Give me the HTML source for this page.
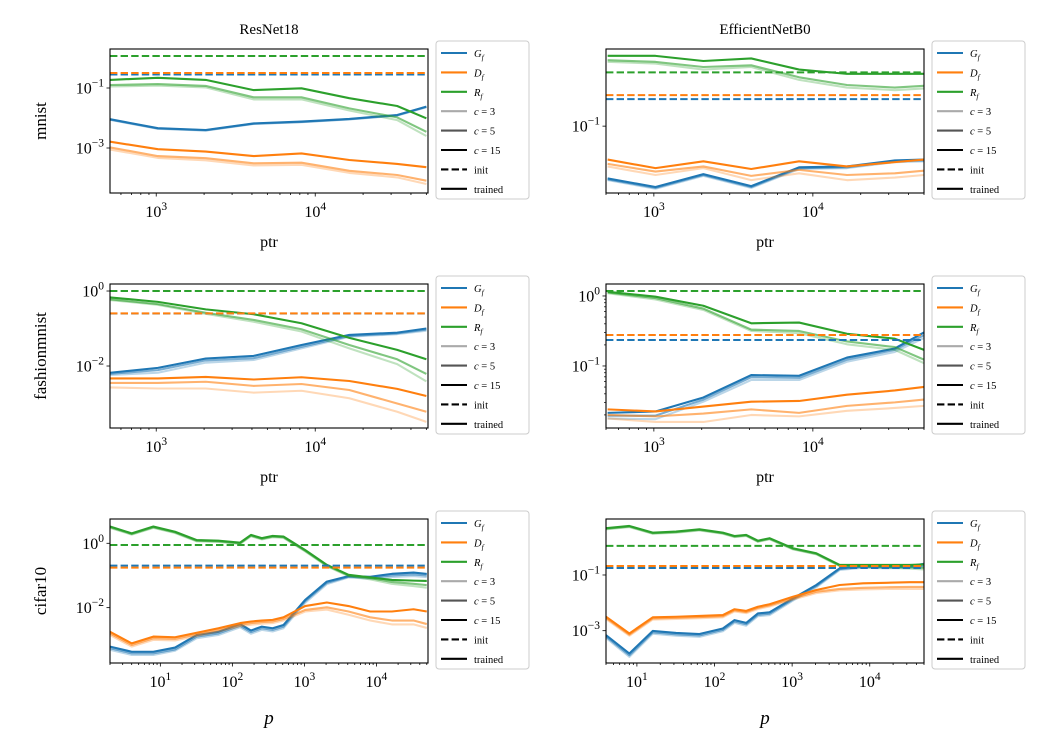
<!DOCTYPE html>
<html><head><meta charset="utf-8"><style>
html,body{margin:0;padding:0;background:#fff;}
svg{display:block;font-family:"Liberation Serif",serif;}
</style></head>
<body>
<svg id="fig" width="1050" height="750" viewBox="0 0 1050 750" xmlns="http://www.w3.org/2000/svg"></svg>
<script>
// ---------- x values ----------
const ptrVals = [512,1024,2048,4096,8192,16384,32768,50000];
const pRes = [2,4,8,16,32,64,128,181,256,362,512,1024,2048,4096,8192,16384,32768,50000];
const pEff = [4,8,16,32,64,128,181,256,362,512,1024,2048,4096,8192,16384,32768,50000];

// ---------- log10 values: mnist / ResNet18 ----------
const mnR_G15 = [-2.04,-2.34,-2.4,-2.18,-2.12,-2.03,-1.9,-1.62];
const mnR_G5  = [-2.05,-2.35,-2.41,-2.19,-2.13,-2.04,-1.91,-1.63];
const mnR_G3  = [-2.06,-2.36,-2.42,-2.2,-2.14,-2.05,-1.92,-1.64];
const mnR_D15 = [-2.79,-3.04,-3.12,-3.27,-3.18,-3.4,-3.53,-3.64];
const mnR_D5  = [-2.98,-3.27,-3.34,-3.51,-3.49,-3.76,-3.9,-4.09];
const mnR_D3  = [-3.05,-3.33,-3.41,-3.58,-3.56,-3.83,-3.98,-4.2];
const mnR_R15 = [-0.73,-0.66,-0.73,-1.07,-1.01,-1.34,-1.6,-2.01];
const mnR_R5  = [-0.9,-0.87,-0.93,-1.31,-1.31,-1.68,-1.98,-2.46];
const mnR_R3  = [-0.95,-0.92,-0.98,-1.38,-1.38,-1.75,-2.07,-2.6];
const mnR_init = [-0.55,-0.5,0.067];

// ---------- mnist / EfficientNetB0 ----------
const mnE_G15 = [-1.61,-1.71,-1.56,-1.7,-1.48,-1.47,-1.4,-1.39];
const mnE_G5  = [-1.62,-1.72,-1.57,-1.71,-1.49,-1.48,-1.41,-1.4];
const mnE_G3  = [-1.63,-1.73,-1.58,-1.72,-1.5,-1.49,-1.42,-1.41];
const mnE_D15 = [-1.39,-1.49,-1.41,-1.5,-1.41,-1.47,-1.42,-1.39];
const mnE_D5  = [-1.44,-1.53,-1.47,-1.58,-1.51,-1.57,-1.55,-1.52];
const mnE_D3  = [-1.47,-1.57,-1.49,-1.63,-1.55,-1.63,-1.6,-1.57];
const mnE_R15 = [-0.18,-0.18,-0.24,-0.21,-0.34,-0.39,-0.39,-0.39];
const mnE_R5  = [-0.23,-0.25,-0.31,-0.29,-0.43,-0.52,-0.55,-0.53];
const mnE_R3  = [-0.25,-0.27,-0.34,-0.31,-0.46,-0.55,-0.58,-0.56];
const mnE_init = [-0.685,-0.638,-0.373];

// ---------- fashionmnist / ResNet18 ----------
const fmR_G15 = [-2.18,-2.05,-1.8,-1.73,-1.44,-1.17,-1.11,-1.0];
const fmR_G5  = [-2.21,-2.11,-1.85,-1.79,-1.49,-1.2,-1.13,-1.03];
const fmR_G3  = [-2.24,-2.18,-1.91,-1.84,-1.53,-1.22,-1.15,-1.06];
const fmR_D15 = [-2.33,-2.33,-2.29,-2.36,-2.3,-2.4,-2.61,-2.8];
const fmR_D5  = [-2.45,-2.45,-2.42,-2.53,-2.48,-2.64,-3.0,-3.22];
const fmR_D3  = [-2.57,-2.6,-2.6,-2.71,-2.66,-2.86,-3.22,-3.49];
const fmR_R15 = [-0.17,-0.29,-0.49,-0.62,-0.86,-1.25,-1.57,-1.82];
const fmR_R5  = [-0.22,-0.35,-0.58,-0.77,-1.02,-1.44,-1.82,-2.21];
const fmR_R3  = [-0.24,-0.37,-0.61,-0.82,-1.08,-1.53,-1.95,-2.41];
const fmR_init = [-0.6,-0.595,0.0];

// ---------- fashionmnist / EfficientNetB0 ----------
const fmE_G15 = [-1.67,-1.65,-1.45,-1.13,-1.14,-0.88,-0.75,-0.52];
const fmE_G5  = [-1.71,-1.71,-1.48,-1.16,-1.17,-0.91,-0.77,-0.56];
const fmE_G3  = [-1.75,-1.76,-1.51,-1.2,-1.2,-0.94,-0.8,-0.6];
const fmE_D15 = [-1.62,-1.65,-1.58,-1.51,-1.5,-1.41,-1.35,-1.3];
const fmE_D5  = [-1.7,-1.72,-1.68,-1.62,-1.67,-1.57,-1.52,-1.48];
const fmE_D3  = [-1.75,-1.8,-1.8,-1.7,-1.72,-1.64,-1.6,-1.57];
const fmE_R15 = [0.06,-0.01,-0.14,-0.39,-0.38,-0.54,-0.61,-0.77];
const fmE_R5  = [0.05,-0.03,-0.18,-0.48,-0.5,-0.65,-0.73,-0.91];
const fmE_R3  = [0.04,-0.05,-0.2,-0.5,-0.53,-0.69,-0.77,-0.96];
const fmE_init = [-0.629,-0.557,0.071];

// ---------- cifar10 / ResNet18 ----------
const cfR_G15 = [-3.21,-3.37,-3.37,-3.24,-2.85,-2.75,-2.51,-2.71,-2.59,-2.64,-2.54,-1.76,-1.19,-1.02,-1.04,-0.95,-0.91,-0.95];
const cfR_G5  = [-3.26,-3.42,-3.42,-3.3,-2.9,-2.8,-2.56,-2.76,-2.64,-2.69,-2.59,-1.8,-1.23,-1.04,-1.07,-1.0,-0.97,-1.0];
const cfR_G3  = [-3.31,-3.47,-3.47,-3.34,-2.95,-2.85,-2.61,-2.81,-2.69,-2.74,-2.64,-1.85,-1.27,-1.06,-1.1,-1.05,-1.02,-1.05];
const cfR_D15 = [-2.75,-3.11,-2.9,-2.92,-2.78,-2.64,-2.48,-2.43,-2.4,-2.38,-2.3,-1.95,-1.84,-1.95,-2.12,-2.12,-2.05,-2.12];
const cfR_D5  = [-2.8,-3.16,-2.95,-2.97,-2.83,-2.69,-2.53,-2.48,-2.45,-2.43,-2.35,-2.07,-1.99,-2.12,-2.3,-2.4,-2.4,-2.51];
const cfR_D3  = [-2.85,-3.21,-3.0,-3.02,-2.88,-2.74,-2.58,-2.53,-2.5,-2.48,-2.4,-2.12,-2.06,-2.22,-2.4,-2.52,-2.52,-2.63];
const cfR_R15 = [0.52,0.31,0.52,0.36,0.1,0.08,0.02,0.26,0.16,0.23,0.21,-0.21,-0.67,-0.98,-1.06,-1.14,-1.16,-1.17];
const cfR_R5  = [0.5,0.29,0.5,0.34,0.08,0.06,0.0,0.24,0.14,0.21,0.19,-0.23,-0.69,-1.0,-1.08,-1.2,-1.26,-1.3];
const cfR_R3  = [0.48,0.27,0.48,0.32,0.06,0.04,-0.02,0.22,0.12,0.19,0.17,-0.25,-0.71,-1.02,-1.12,-1.26,-1.33,-1.38];
const cfR_init = [-0.695,-0.757,-0.053];

// ---------- cifar10 / EfficientNetB0 ----------
const cfE_G15 = [-3.16,-3.82,-3.01,-3.08,-3.12,-2.92,-2.62,-2.72,-2.38,-2.34,-1.84,-1.36,-0.76,-0.68,-0.7,-0.68,-0.6];
const cfE_G5  = [-3.21,-3.88,-3.06,-3.13,-3.17,-2.97,-2.67,-2.77,-2.43,-2.39,-1.88,-1.4,-0.79,-0.71,-0.73,-0.71,-0.66];
const cfE_G3  = [-3.26,-3.94,-3.11,-3.18,-3.22,-3.02,-2.72,-2.82,-2.48,-2.44,-1.92,-1.44,-0.82,-0.74,-0.76,-0.74,-0.72];
const cfE_D15 = [-2.5,-3.1,-2.52,-2.5,-2.47,-2.44,-2.23,-2.29,-2.14,-2.05,-1.78,-1.54,-1.36,-1.3,-1.28,-1.26,-1.26];
const cfE_D5  = [-2.54,-3.14,-2.56,-2.54,-2.51,-2.48,-2.27,-2.33,-2.18,-2.09,-1.84,-1.6,-1.5,-1.46,-1.44,-1.43,-1.43];
const cfE_D3  = [-2.58,-3.18,-2.6,-2.58,-2.55,-2.52,-2.31,-2.37,-2.22,-2.13,-1.88,-1.65,-1.55,-1.52,-1.5,-1.5,-1.5];
const cfE_R15 = [0.68,0.76,0.52,0.56,0.64,0.52,0.4,0.44,0.23,0.32,-0.04,-0.22,-0.64,-0.64,-0.64,-0.64,-0.62];
const cfE_R5  = [0.66,0.74,0.5,0.54,0.62,0.5,0.38,0.42,0.21,0.3,-0.06,-0.24,-0.66,-0.68,-0.7,-0.72,-0.74];
const cfE_R3  = [0.64,0.72,0.48,0.52,0.6,0.48,0.36,0.4,0.19,0.28,-0.08,-0.26,-0.68,-0.71,-0.74,-0.77,-0.8];
const cfE_init = [-0.748,-0.676,0.043];

// ---------- tick labels ----------
const xTickPtr = [3,4];
const xTickP = [1,2,3,4];
const yTicksA = [-1,-3];
const yTicksB = [-1];
const yTicksC = [0,-2];
const yTicksD = [0,-1];
const yTicksE = [0,-2];
const yTicksF = [-1,-3];
const rowNames = ["mnist","fashionmnist","cifar10"];
const colNames = ["ResNet18","EfficientNetB0"];
const legendLabels = ["G","D","R","c = 3","c = 5","c = 15","init","trained"];

const COL = ["#1f77b4","#ff7f0e","#2ca02c"];
const svg = document.getElementById('fig');
const NS = "http://www.w3.org/2000/svg";
function mk(tag, attrs, parent){
  const e = document.createElementNS(NS, tag);
  for (const k in attrs) e.setAttribute(k, attrs[k]);
  (parent||svg).appendChild(e);
  return e;
}

const panels = [
  {box:[110,49,428,193], x:ptrVals, xd:[Math.log10(512),Math.log10(51200)], yd:[-4.5,0.3], G:[mnR_G3,mnR_G5,mnR_G15], D:[mnR_D3,mnR_D5,mnR_D15], R:[mnR_R3,mnR_R5,mnR_R15], init:mnR_init, yt:yTicksA, xt:xTickPtr, minorY:false, name:"mnist-resnet18"},
  {box:[606,49,924,193], x:ptrVals, xd:[Math.log10(500),Math.log10(50000)], yd:[-1.78,-0.1], G:[mnE_G3,mnE_G5,mnE_G15], D:[mnE_D3,mnE_D5,mnE_D15], R:[mnE_R3,mnE_R5,mnE_R15], init:mnE_init, yt:yTicksB, xt:xTickPtr, minorY:false, name:"mnist-efficientnetb0"},
  {box:[110,284,428,428], x:ptrVals, xd:[Math.log10(512),Math.log10(51200)], yd:[-3.653,0.187], G:[fmR_G3,fmR_G5,fmR_G15], D:[fmR_D3,fmR_D5,fmR_D15], R:[fmR_R3,fmR_R5,fmR_R15], init:fmR_init, yt:yTicksC, xt:xTickPtr, minorY:false, name:"fashionmnist-resnet18"},
  {box:[606,284,924,428], x:ptrVals, xd:[Math.log10(500),Math.log10(50000)], yd:[-1.886,0.171], G:[fmE_G3,fmE_G5,fmE_G15], D:[fmE_D3,fmE_D5,fmE_D15], R:[fmE_R3,fmE_R5,fmE_R15], init:fmE_init, yt:yTicksD, xt:xTickPtr, minorY:true, name:"fashionmnist-efficientnetb0"},
  {box:[110,519,428,663], x:pRes, xd:[Math.log10(2),Math.log10(52000)], yd:[-3.72,0.755], G:[cfR_G3,cfR_G5,cfR_G15], D:[cfR_D3,cfR_D5,cfR_D15], R:[cfR_R3,cfR_R5,cfR_R15], init:cfR_init, yt:yTicksE, xt:xTickP, minorY:false, name:"cifar10-resnet18"},
  {box:[606,519,924,663], x:pEff, xd:[Math.log10(4),Math.log10(50000)], yd:[-4.16,1.01], G:[cfE_G3,cfE_G5,cfE_G15], D:[cfE_D3,cfE_D5,cfE_D15], R:[cfE_R3,cfE_R5,cfE_R15], init:cfE_init, yt:yTicksF, xt:xTickP, minorY:false, name:"cifar10-efficientnetb0"}
];

const ALPHA = [0.3,0.6,1];

panels.forEach((P, pi) => {
  const [x0,y0,x1,y1] = P.box;
  const g = mk('g', {});
  
  
  const sx = v => x0 + (Math.log10(v) - P.xd[0]) / (P.xd[1]-P.xd[0]) * (x1-x0);
  const sy = lv => y1 - (lv - P.yd[0]) / (P.yd[1]-P.yd[0]) * (y1-y0);
  const cid = 'clip' + pi;
  const cp = mk('clipPath', {id:cid}, g);
  mk('rect', {x:x0, y:y0, width:x1-x0, height:y1-y0}, cp);
  const plot = mk('g', {'clip-path':'url(#'+cid+')'}, g);
  const metrics = [P.G, P.D, P.R];
  const mnames = ['g','d','r'];
  metrics.forEach((ser, mi) => {
    ser.forEach((arr, ci) => {
      const pts = arr.map((lv,i) => sx(P.x[i]).toFixed(2)+','+sy(lv).toFixed(2)).join(' ');
      const pl = mk('polyline', {points:pts, fill:'none', stroke:COL[mi], 'stroke-width':2.1, 'stroke-opacity':ALPHA[ci], 'stroke-linejoin':'round'}, plot);
      
      
    });
  });
  [0,1,2].forEach(mi => {
    const yy = sy(P.init[mi]);
    const dl = mk('line', {x1:x0, x2:x1, y1:yy, y2:yy, stroke:COL[mi], 'stroke-width':2, 'stroke-dasharray':'7.4,3.2'}, plot);
    
    
  });
  const sp = mk('rect', {x:x0, y:y0, width:x1-x0, height:y1-y0, fill:'none', stroke:'#000', 'stroke-width':1.1}, g);
  
  
  const dmin = Math.floor(P.xd[0]), dmax = Math.ceil(P.xd[1]);
  for (let d = dmin; d <= dmax; d++) {
    for (let k = 1; k <= 9; k++) {
      const lv = Math.log10(k) + d;
      if (lv < P.xd[0]-1e-9 || lv > P.xd[1]+1e-9) continue;
      const xx = sx(Math.pow(10, lv));
      mk('line', {x1:xx, x2:xx, y1:y1, y2:y1+(k===1?3.5:2), stroke:'#000', 'stroke-width':0.8}, g);
    }
  }
  P.xt.forEach(e => {
    const xx = sx(Math.pow(10, e));
    const t = mk('text', {x:xx, y:y1+24, 'text-anchor':'middle', 'font-size':16}, g);
    
    
    t.innerHTML = '10<tspan dy="-7" font-size="11.5">' + e + '</tspan>';
  });
  P.yt.forEach(e => {
    const yy = sy(e);
    mk('line', {x1:x0-3.5, x2:x0, y1:yy, y2:yy, stroke:'#000', 'stroke-width':0.8}, g);
    const t = mk('text', {x:x0-6, y:yy+5.5, 'text-anchor':'end', 'font-size':16}, g);
    
    
    t.innerHTML = '10<tspan dy="-7" font-size="11.5">' + (e<0?'\u2212':'') + Math.abs(e) + '</tspan>';
  });
  if (P.minorY) {
    for (let d = Math.floor(P.yd[0]); d <= Math.ceil(P.yd[1]); d++) {
      for (let k = 2; k <= 9; k++) {
        const lv = Math.log10(k) + d;
        if (lv < P.yd[0] || lv > P.yd[1]) continue;
        const yy = sy(lv);
        mk('line', {x1:x0-2, x2:x0, y1:yy, y2:yy, stroke:'#000', 'stroke-width':0.7}, g);
      }
    }
  }
  const row = Math.floor(pi/2);
  const xl = mk('text', {x:(x0+x1)/2, y: row<2 ? y1+54 : y1+61, 'text-anchor':'middle', 'font-size': row<2?16:19, 'font-style': row<2?'normal':'italic'}, g);
  
  
  xl.textContent = row<2 ? 'ptr' : 'p';
  const lx = x1 + 8, ly = y0 - 8;
  const lg = mk('g', {}, g);
  
  
  mk('rect', {x:lx, y:ly, width:93, height:158, rx:3, fill:'#fff', stroke:'#ccc', 'stroke-width':1}, lg);
  const lcols = [COL[0],COL[1],COL[2],'#aaaaaa','#555555','#000','#000','#000'];
  legendLabels.forEach((lab, i) => {
    const yy = ly + 12 + i*19.4;
    const ln = mk('line', {x1:lx+5, x2:lx+31, y1:yy, y2:yy, stroke:lcols[i], 'stroke-width':2.1}, lg);
    if (i===6) ln.setAttribute('stroke-dasharray','7.4,3.2');
    const t = mk('text', {x:lx+38, y:yy+4, 'font-size':10.5}, lg);
    
    
    if (i < 3) t.innerHTML = '<tspan font-style="italic">'+lab+'</tspan><tspan font-style="italic" font-size="7.5" dy="3">f</tspan>';
    else if (i < 6) t.innerHTML = '<tspan font-style="italic">c</tspan> ' + lab.slice(2);
    else t.textContent = lab;
  });
});

colNames.forEach((n, i) => {
  const t = mk('text', {x: i===0?269:765, y:34, 'text-anchor':'middle', 'font-size':15});
  
  
  t.textContent = n;
});
rowNames.forEach((n, i) => {
  const cy = [121,356,591][i];
  const t = mk('text', {x:0, y:0, 'text-anchor':'middle', 'font-size':17, transform:'translate(46,'+cy+') rotate(-90)'});
  
  
  t.textContent = n;
});
</script>
</body></html>
